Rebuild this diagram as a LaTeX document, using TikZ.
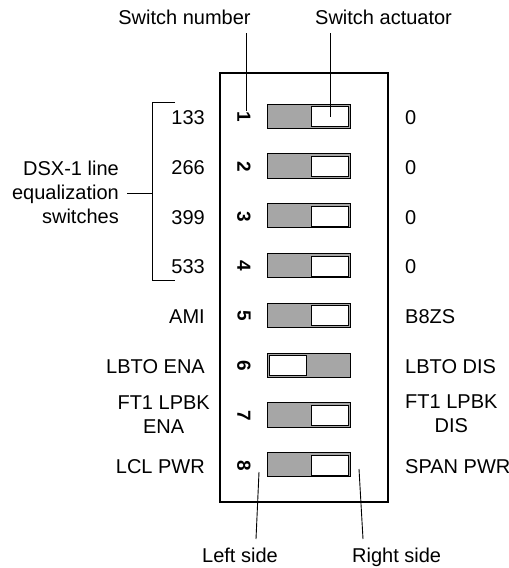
\documentclass[tikz,border=0pt]{standalone}
\usepackage{fontspec}
\setmainfont{Liberation Sans}
\definecolor{swgray}{RGB}{166,166,166}
\newcommand\lblfont{\fontsize{20}{24}\selectfont}
\newcommand\swnumfont{\fontsize{19}{19}\selectfont\bfseries}
\begin{document}
\begin{tikzpicture}[x=1pt,y=-1pt,
  lbl/.style={font=\lblfont, inner sep=0pt},
  lleft/.style={lbl, anchor=base east},
  lright/.style={lbl, anchor=base west},
  swnum/.style={font=\swnumfont, inner sep=0pt, rotate=-90, anchor=center},
  swbody/.style={draw=black, line width=1pt, fill=swgray, minimum width=83.4pt, minimum height=24.3pt, inner sep=0pt},
  swknob/.style={draw=black, line width=0.9pt, fill=white, minimum width=36.6pt, minimum height=20pt, inner sep=0pt},
  leader/.style={draw=black, line width=0.9pt},
  housing/.style={draw=black, line width=2.6pt}]
\useasboundingbox (0,0) rectangle (509,568);
\draw[housing] (220,73) rectangle (388,502);
% switches
\foreach \i/\kx/\ltxt/\rtxt in {1/330/133/0, 2/330/266/0, 3/330/399/0, 4/330/533/0,
  5/330/AMI/B8ZS, 6/287.7/LBTO ENA/LBTO DIS, 7/330/{}/{}, 8/330/LCL PWR/SPAN PWR}{
  \pgfmathsetmacro\c{116.2+49.8*(\i-1)}
  \node[swbody] (sw\i) at (309,\c) {};
  \node[swknob] (knob\i) at (\kx,\c+0.5) {};
  \node[swnum] (num\i) at (244,\c+0.5) {\i};
  \node[lleft] (left\i) at (205,\c+8.2) {\ltxt};
  \node[lright] (right\i) at (405,\c+8.2) {\rtxt};
}
\node[lbl, align=center, anchor=east] (ft1l) at (210,414.2) {FT1 LPBK\\ENA};
\node[lbl, align=center, anchor=west] (ft1r) at (405,414.2) {FT1 LPBK\\DIS};
% bracket
\node[lbl, align=right, anchor=east] (dsx) at (119,192.5) {DSX-1 line\\equalization\\switches};
\coordinate (brtop) at (175,102);
\coordinate (brbot) at (175,280);
\coordinate (brmid) at (152,193);
\draw[leader] (brtop) -- (brmid |- brtop) -- (brmid |- brbot) -- (brbot);
\draw[leader] ([xshift=8pt]dsx.east |- brmid) -- (brmid);
% top labels
\node[lbl, anchor=base] (snum) at (184.5,24.2) {Switch number};
\node[lbl, anchor=base west] (sact) at (315,24.2) {Switch actuator};
\coordinate (snumtop) at (246,33);
\coordinate (sacttop) at (330.5,33);
\draw[leader] (snumtop) -- (snumtop |- num1.west);
\draw[leader] (sacttop) -- (sacttop |- knob1.center);
% bottom labels
\node[lbl, anchor=base] (lside) at (240,562.7) {Left side};
\node[lbl, anchor=base west] (rside) at (352,562.7) {Right side};
\coordinate (lsbot) at (256,539);
\coordinate (lstop) at (259,472);
\coordinate (rsbot) at (363,539);
\coordinate (rstop) at (359,469);
\draw[leader] (lsbot) -- (lstop);
\draw[leader] (rsbot) -- (rstop);
\end{tikzpicture}
\end{document}
